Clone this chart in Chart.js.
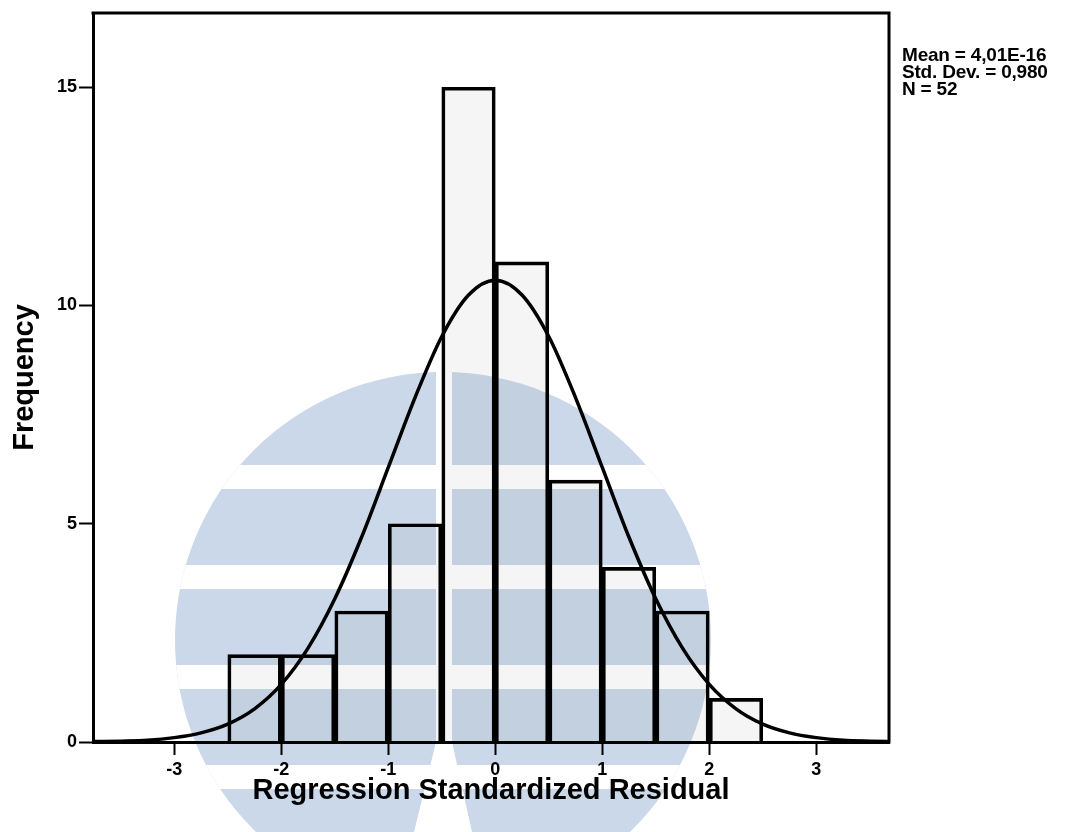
<!DOCTYPE html>
<html>
<head>
<meta charset="utf-8">
<script src="https://cdn.jsdelivr.net/npm/chart.js@4.4.1/dist/chart.umd.min.js"></script>
<style>
  html, body { margin: 0; padding: 0; background: #ffffff; }
  #wrap { width: 1071px; height: 832px; }
</style>
</head>
<body>
<div id="wrap"><canvas id="c" width="1071" height="832"></canvas></div>
<script>
// ---- data ----
const binStarts = [-2.5, -2.0, -1.5, -1.0, -0.5, 0.0, 0.5, 1.0, 1.5, 2.0];
const binWidth = 0.5;
const counts = [2, 2, 3, 5, 15, 11, 6, 4, 3, 1];

// normal curve as traced on the picture
const curveX = [-3.75, -3.5, -3.25, -3.0, -2.75, -2.5, -2.25, -2.0, -1.75, -1.5, -1.25, -1.0, -0.75, -0.5, -0.25,
                0.0, 0.25, 0.5, 0.75, 1.0, 1.25, 1.5, 1.75, 2.0, 2.25, 2.5, 2.75, 3.0, 3.25, 3.5, 3.75];
const curveY = [0.01, 0.02, 0.04, 0.10, 0.21, 0.41, 0.76, 1.32, 2.15, 3.28, 4.69, 6.29, 7.89, 9.29, 10.24,
                10.58, 10.24, 9.29, 7.89, 6.29, 4.69, 3.28, 2.15, 1.32, 0.76, 0.41, 0.21, 0.10, 0.04, 0.02, 0.01];

const xTickValues = [-3, -2, -1, 0, 1, 2, 3];
const yTickValues = [0, 5, 10, 15];
const xRange = [-3.76, 3.68];
const yRange = [0, 16.7];

const statsLines = ["Mean = 4,01E-16", "Std. Dev. = 0,980", "N = 52"];
const xTitle = "Regression Standardized Residual";
const yTitle = "Frequency";

// ---- build datasets ----
const barPoints = binStarts.map((s, i) => ({ x: s + binWidth / 2, y: counts[i] }));
const curvePoints = curveX.map((x, i) => ({ x: x, y: curveY[i] }));

const FONT = '"Liberation Sans", Arial, Helvetica, sans-serif';

// decorative background watermark (light blue emblem)
const watermark = {
  id: 'watermark',
  beforeDraw(chart) {
    const ctx = chart.ctx;
    ctx.save();
    ctx.fillStyle = '#ffffff';
    ctx.fillRect(0, 0, chart.width, chart.height);
    ctx.beginPath();
    ctx.arc(443, 640, 268, 0, Math.PI * 2);
    ctx.closePath();
    ctx.clip();
    ctx.fillStyle = '#cad8e9';
    ctx.fillRect(0, 0, chart.width, chart.height);
    ctx.fillStyle = '#ffffff';
    [[465, 24], [565, 24], [665, 24], [765, 24]].forEach(b => ctx.fillRect(0, b[0], chart.width, b[1]));
    ctx.beginPath();
    ctx.moveTo(436, 360);
    ctx.lineTo(452, 360);
    ctx.lineTo(452, 742);
    ctx.lineTo(472, 832);
    ctx.lineTo(414, 832);
    ctx.lineTo(436, 742);
    ctx.closePath();
    ctx.fill();
    ctx.restore();
  }
};

// frame (top + right) and stats text
const frameAndStats = {
  id: 'frameAndStats',
  afterDraw(chart) {
    const ctx = chart.ctx;
    const a = chart.chartArea;
    ctx.save();
    ctx.strokeStyle = '#000000';
    ctx.lineWidth = 3;
    ctx.beginPath();
    ctx.moveTo(a.left - 1.5, a.top);
    ctx.lineTo(a.right, a.top);
    ctx.lineTo(a.right, a.bottom + 1.5);
    ctx.stroke();
    ctx.fillStyle = '#000000';
    ctx.font = 'bold 19px ' + FONT;
    ctx.textBaseline = 'middle';
    ctx.textAlign = 'left';
    try { ctx.letterSpacing = '-0.2px'; } catch (e) {}
    statsLines.forEach((t, i) => ctx.fillText(t, a.right + 13, 56 + i * 17));
    ctx.restore();
  }
};

new Chart(document.getElementById('c'), {
  type: 'bar',
  data: {
    datasets: [
      {
        type: 'line',
        data: curvePoints,
        borderColor: '#000000',
        borderWidth: 3.5,
        pointRadius: 0,
        fill: false,
        cubicInterpolationMode: 'monotone',
        order: 1
      },
      {
        type: 'bar',
        data: barPoints,
        backgroundColor: 'rgba(120,120,120,0.07)',
        borderColor: '#000000',
        borderWidth: 3,
        barPercentage: 1.0,
        categoryPercentage: 1.0,
        grouped: false,
        order: 2
      }
    ]
  },
  options: {
    responsive: false,
    animation: false,
    layout: { padding: { top: 13, right: 182, left: 0, bottom: 0 } },
    plugins: {
      legend: { display: false },
      tooltip: { enabled: false },
      title: { display: false }
    },
    scales: {
      x: {
        type: 'linear',
        min: xRange[0],
        max: xRange[1],
        offset: false,
        afterBuildTicks: (s) => { s.ticks = xTickValues.map(v => ({ value: v })); },
        afterFit: (s) => { s.height = 90; },
        grid: {
          offset: false,
          drawOnChartArea: false,
          drawTicks: true,
          tickLength: 13,
          tickWidth: 2,
          tickColor: '#000000'
        },
        border: { display: true, color: '#000000', width: 3 },
        ticks: {
          color: '#000000',
          font: { family: FONT, size: 18, weight: 'bold' },
          padding: 4,
          maxRotation: 0,
          autoSkip: false
        },
        title: {
          display: true,
          text: xTitle,
          color: '#000000',
          font: { family: FONT, size: 29, weight: 'bold' },
          padding: { top: 0, bottom: 24 }
        }
      },
      y: {
        type: 'linear',
        min: yRange[0],
        max: yRange[1],
        afterBuildTicks: (s) => { s.ticks = yTickValues.map(v => ({ value: v })); },
        afterFit: (s) => { s.width = 93; },
        grid: {
          drawOnChartArea: false,
          drawTicks: true,
          tickLength: 14,
          tickWidth: 2,
          tickColor: '#000000'
        },
        border: { display: true, color: '#000000', width: 3 },
        ticks: {
          color: '#000000',
          font: { family: FONT, size: 18, weight: 'bold' },
          padding: 2
        },
        title: {
          display: true,
          text: yTitle,
          color: '#000000',
          font: { family: FONT, size: 29, weight: 'bold' },
          padding: { top: 8, bottom: 0 }
        }
      }
    }
  },
  plugins: [watermark, frameAndStats]
});
</script>
</body>
</html>
